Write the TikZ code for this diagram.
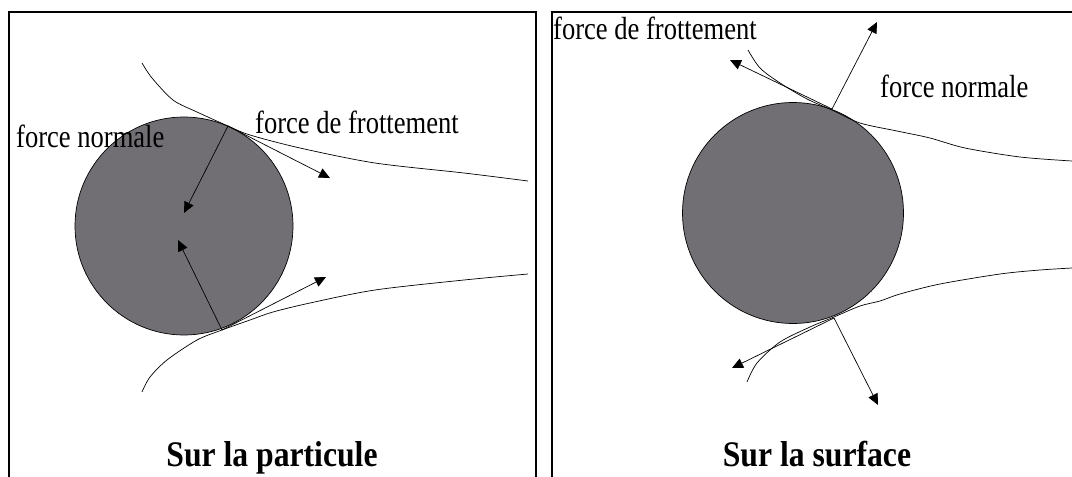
\documentclass[tikz,border=0pt]{standalone}
\usepackage{fontspec}
\setmainfont{Liberation Serif}
\newfontfamily\condfont[FakeStretch=0.83]{Liberation Serif}
\newfontfamily\condbold[FakeStretch=0.88]{Liberation Serif Bold}
\usetikzlibrary{arrows.meta}
\definecolor{particle}{RGB}{113,111,116}
\begin{document}
\begin{tikzpicture}[x=1pt,y=-1pt,
  panel/.style={draw=black,line width=2pt},
  grain/.style={circle,draw=black,line width=0.7pt,fill=particle,inner sep=0pt,minimum size=#1},
  wall/.style={draw=black,line width=0.7pt},
  force/.style={draw=black,line width=0.7pt,-{Triangle[length=11pt,width=10pt]}},
  lab/.style={inner sep=0pt,anchor=base west,font=\condfont\fontsize{32}{36}\selectfont},
  title/.style={inner sep=0pt,anchor=base,font=\condbold\fontsize{36}{40}\selectfont}]
\useasboundingbox (0,0) rectangle (1072,477);
\clip (0,0) rectangle (1072,477);
\fill[white] (0,0) rectangle (1072,477);
% panels
\draw[panel] (9,12) rectangle (536,495);
\draw[panel] (552,12) rectangle (1085,495);
% ---------- left panel ----------
\node[grain=218pt] (g1) at (184,226) {};
\draw[wall] plot[smooth,tension=0.5] coordinates {(142,63) (152,78) (173,100) (197,112) (228,126) (250,135) (300,148) (375,163) (464,173) (528,181)};
\draw[wall] plot[smooth,tension=0.5] coordinates {(142,392) (150,377) (167,360) (197,340) (222,330) (250,320) (273,312) (310,303) (375,290) (464,280) (528,274)};
\coordinate (c1) at (228,126);
\coordinate (c2) at (222,330);
\coordinate (n1) at (184,213);
\coordinate (n2) at (178,240);
\coordinate (f1) at (330,178);
\coordinate (f2) at (326,277);
\draw[force] (c1) -- (n1);
\draw[force] (c2) -- (n2);
\draw[force] (c1) -- (f1);
\draw[force] (c2) -- (f2);
\node[lab] (ln1) at (16,147) {force normale};
\node[lab] (lf1) at (255,133) {force de frottement};
\node[title] (t1) at (272,466) {Sur la particule};
% ---------- right panel ----------
\node[grain=221pt] (g2) at (793,213) {};
\draw[wall] plot[smooth,tension=0.5] coordinates {(748,50) (760,68) (780,83) (807,99) (832,110) (860,123) (897,131) (930,138) (965,148) (1020,157) (1072,161)};
\draw[wall] plot[smooth,tension=0.5] coordinates {(747,382) (757,363) (780,342) (810,327) (834,317) (860,306) (880,301) (900,294) (940,284) (1000,274) (1040,270) (1072,268)};
\coordinate (c3) at (832,109);
\coordinate (c4) at (834,318);
\coordinate (n3) at (877,22);
\coordinate (n4) at (878,405);
\coordinate (f3) at (730,60);
\coordinate (f4) at (732,368);
\draw[force] (c3) -- (n3);
\draw[force] (c4) -- (n4);
\draw[force] (c3) -- (f3);
\draw[force] (c4) -- (f4);
\node[lab] (lf2) at (553,39) {force de frottement};
\node[lab] (ln2) at (880,97) {force normale};
\node[title] (t2) at (817,466) {Sur la surface};
\end{tikzpicture}
\end{document}
